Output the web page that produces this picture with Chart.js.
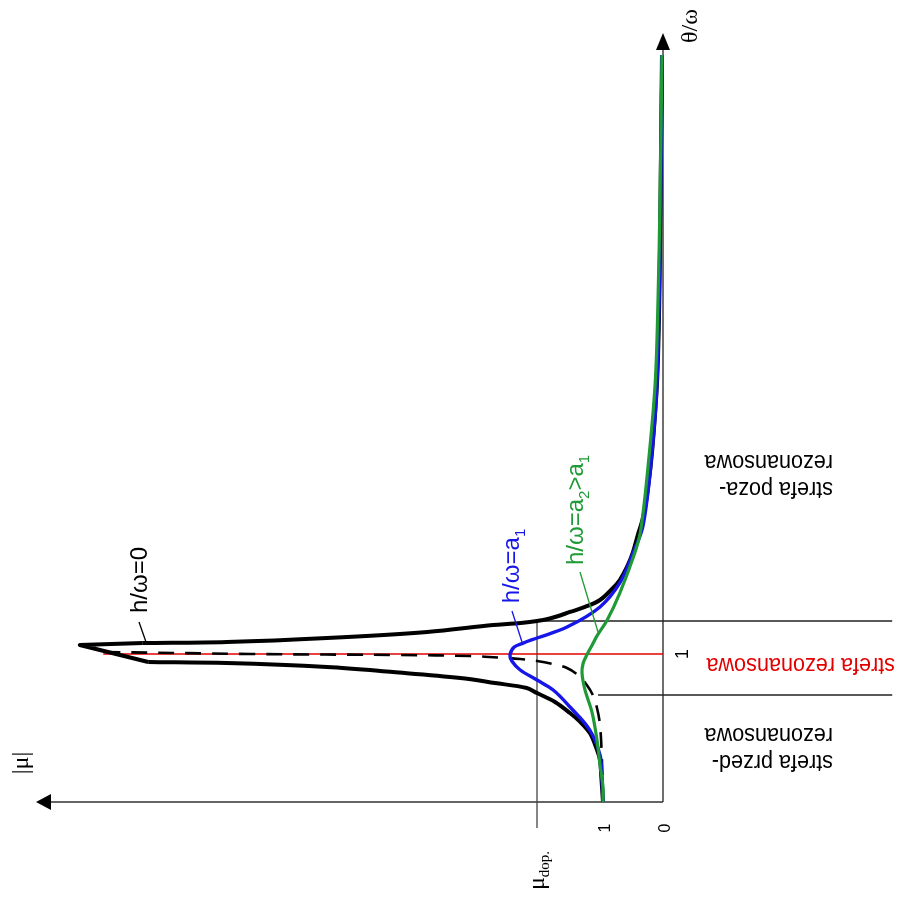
<!DOCTYPE html>
<html>
<head>
<meta charset="utf-8">
<script src="https://cdn.jsdelivr.net/npm/chart.js@4.4.0/dist/chart.umd.min.js"></script>
<style>
  html, body { margin: 0; padding: 0; background: #fff; }
  #wrap { width: 897px; height: 900px; }
</style>
</head>
<body>
<div id="wrap"><canvas id="chart" width="897" height="900"></canvas></div>
<script>
// |mu| (horizontal axis, grows to the left) and theta/omega (vertical axis)
// h/omega = 0, branch below resonance
const muBlackLow = [1.00, 1.03, 1.05, 1.13, 1.22, 1.38, 1.55, 1.80, 2.10, 2.27, 2.80, 3.38, 4.50, 5.60, 7.27, 8.58];
const thBlackLow = [0.000, 0.182, 0.284, 0.385, 0.466, 0.541, 0.601, 0.676, 0.736, 0.770, 0.804, 0.838, 0.878, 0.912, 0.939, 0.946];
// clipped peak of h/omega = 0
const muBlackTip = [8.58, 9.72, 8.67];
const thBlackTip = [0.946, 1.061, 1.074];
// h/omega = 0, branch above resonance
const muBlackHigh = [8.67, 7.27, 5.60, 3.93, 2.83, 2.47, 2.05, 1.80, 1.55, 1.30, 1.05, 0.85, 0.72, 0.60, 0.50, 0.42, 0.33, 0.25, 0.18, 0.10, 0.067, 0.05, 0.033, 0.017];
const thBlackHigh = [1.074, 1.081, 1.108, 1.149, 1.196, 1.206, 1.226, 1.250, 1.284, 1.318, 1.365, 1.439, 1.500, 1.588, 1.689, 1.804, 1.926, 2.122, 2.378, 2.831, 3.277, 3.730, 4.405, 5.047];
// dashed curve
const muDashed = [1.00, 1.02, 1.05, 1.10, 1.17, 1.27, 1.42, 1.60, 1.83, 2.10, 2.38, 2.72, 3.22, 4.38, 6.88, 9.33];
const thDashed = [0.000, 0.304, 0.520, 0.635, 0.723, 0.791, 0.858, 0.905, 0.932, 0.953, 0.966, 0.976, 0.986, 0.993, 1.000, 1.014];
// h/omega = a1
const muBlue = [1.00, 1.02, 1.05, 1.22, 1.55, 1.83, 2.10, 2.38, 2.52, 2.55, 2.48, 2.33, 2.10, 1.60, 1.05, 0.72, 0.50, 0.33, 0.18, 0.10, 0.05, 0.017];
const thBlue = [0.000, 0.182, 0.318, 0.486, 0.642, 0.757, 0.824, 0.892, 0.953, 0.993, 1.047, 1.074, 1.108, 1.182, 1.318, 1.480, 1.682, 1.872, 2.378, 2.831, 3.730, 5.047];
// h/omega = a2 > a1
const muGreen = [1.00, 1.00, 1.05, 1.10, 1.18, 1.30, 1.35, 1.33, 1.27, 1.18, 1.10, 0.93, 0.72, 0.50, 0.38, 0.25, 0.13, 0.083, 0.05, 0.017];
const thGreen = [0.000, 0.101, 0.250, 0.419, 0.601, 0.757, 0.872, 0.939, 0.993, 1.061, 1.122, 1.230, 1.412, 1.649, 1.818, 2.264, 2.831, 3.392, 4.068, 5.047];
// reference values
const muDop = 2.1;
const zoneLow = 0.723;
const zoneHigh = 1.223;
const resonance = 1;
const muPeakDashed = 9.33;
const muTicks = [0, 1];

function pts(mu, th) {
    return mu.map((m, i) => ({ x: m, y: th[i] }));
}

function line(data, color, width, extra) {
    return Object.assign({
        data: data,
        showLine: true,
        borderColor: color,
        borderWidth: width,
        pointRadius: 0,
        tension: 0.35,
        fill: false,
        clip: false
    }, extra || {});
}

const BLUE = '#1616e8';
const GREEN = '#1f9a36';
const RED = '#e30000';

const datasets = [
    line(pts(muGreen, thGreen), GREEN, 3.2, { order: 1 }),
    line(pts(muBlue, thBlue), BLUE, 3.4, { order: 2 }),
    line(pts(muBlackLow, thBlackLow), '#000', 4, { order: 3 }),
    line(pts(muBlackTip, thBlackTip), '#000', 4, { order: 3, tension: 0, borderJoinStyle: 'round' }),
    line(pts(muBlackHigh, thBlackHigh), '#000', 4, { order: 3 }),
    line(pts(muDashed, thDashed), '#000', 2.6, { order: 4, borderDash: [16, 11] }),
    line([{ x: muPeakDashed, y: resonance }, { x: 0, y: resonance }], RED, 1.6, { order: 5, tension: 0 }),
    line([{ x: muDop, y: -0.176 }, { x: muDop, y: zoneHigh }], '#444', 1.3, { order: 6, tension: 0 }),
    line([{ x: muDop, y: zoneHigh }, { x: -3.82, y: zoneHigh }], '#222', 1.4, { order: 6, tension: 0 }),
    line([{ x: 1.083, y: zoneLow }, { x: -3.82, y: zoneLow }], '#222', 1.4, { order: 6, tension: 0 })
];

// text drawn along a rotated baseline, with optional subscripts
function drawParts(ctx, parts, cx, cy, angle, align, color, sx) {
    ctx.save();
    ctx.translate(cx, cy);
    ctx.rotate(angle);
    if (sx) ctx.scale(sx, 1);
    ctx.fillStyle = color;
    ctx.textAlign = 'left';
    ctx.textBaseline = 'alphabetic';
    let w = 0;
    parts.forEach(p => { ctx.font = p.font; w += ctx.measureText(p.t).width; });
    let pos = align === 'center' ? -w / 2 : 0;
    parts.forEach(p => {
        ctx.font = p.font;
        ctx.fillText(p.t, pos, p.dy || 0);
        pos += ctx.measureText(p.t).width;
    });
    ctx.restore();
}

const SANS = '"Liberation Sans", Arial, sans-serif';
const SERIF = '"Liberation Serif", "Times New Roman", serif';
const UP = -Math.PI / 2;

const overlay = {
    id: 'overlay',
    beforeDatasetsDraw(chart) {
        const { ctx } = chart;
        const xs = chart.scales.x, ys = chart.scales.y;
        const x0 = xs.getPixelForValue(0), y0 = ys.getPixelForValue(0);
        const xEnd = xs.getPixelForValue(xs.max), yEnd = ys.getPixelForValue(ys.max);
        ctx.save();
        ctx.strokeStyle = '#333';
        ctx.lineWidth = 1.4;
        ctx.beginPath();
        ctx.moveTo(x0, y0);
        ctx.lineTo(xEnd + 12, y0);
        ctx.moveTo(x0, y0);
        ctx.lineTo(x0, yEnd + 14);
        ctx.stroke();
        ctx.fillStyle = '#000';
        ctx.beginPath();
        ctx.moveTo(xEnd, y0);
        ctx.lineTo(xEnd + 15, y0 - 8);
        ctx.lineTo(xEnd + 15, y0 + 8);
        ctx.closePath();
        ctx.fill();
        ctx.beginPath();
        ctx.moveTo(x0, yEnd);
        ctx.lineTo(x0 - 7, yEnd + 17);
        ctx.lineTo(x0 + 7, yEnd + 17);
        ctx.closePath();
        ctx.fill();
        ctx.restore();
    },
    afterDatasetsDraw(chart) {
        const { ctx } = chart;
        const xs = chart.scales.x, ys = chart.scales.y;
        const x0 = xs.getPixelForValue(0), y0 = ys.getPixelForValue(0);
        const yEnd = ys.getPixelForValue(ys.max);
        const xEnd = xs.getPixelForValue(xs.max);

        // axis titles
        drawParts(ctx, [{ t: '|μ|', font: '24px ' + SERIF }], xEnd - 8, y0 - 39, UP, 'center', '#000');
        drawParts(ctx, [{ t: 'θ/ω', font: '24px ' + SERIF }], x0 + 34, yEnd + 10, UP, 'left', '#000');

        // tick labels
        muTicks.forEach(m => {
            drawParts(ctx, [{ t: String(m), font: '16px ' + SANS }], xs.getPixelForValue(m) + 7, y0 + 26, UP, 'center', '#000');
        });
        drawParts(ctx, [{ t: 'μ', font: '24px ' + SERIF }, { t: 'dop.', font: '15px ' + SERIF, dy: 5 }],
            xs.getPixelForValue(muDop) + 7, y0 + 88, UP, 'left', '#000');
        drawParts(ctx, [{ t: '1', font: '18px ' + SANS }], x0 + 25, ys.getPixelForValue(resonance), UP, 'center', '#000');

        // curve labels
        const big = '24px ' + SANS, sub = '15px ' + SANS;
        drawParts(ctx, [{ t: 'h/ω=0', font: big }], 147, 580, UP, 'center', '#000');
        drawParts(ctx, [{ t: 'h/ω=a', font: big }, { t: '1', font: sub, dy: 6 }], 519, 566, UP, 'center', BLUE);
        drawParts(ctx, [{ t: 'h/ω=a', font: big }, { t: '2', font: sub, dy: 6 }, { t: '>a', font: big }, { t: '1', font: sub, dy: 6 }],
            583, 510, UP, 'center', GREEN);

        // leaders
        ctx.save();
        ctx.lineWidth = 1.3;
        [[139, 622, 146, 642, '#000'], [512, 611, 522, 642, BLUE], [580, 572, 598, 632, GREEN]].forEach(l => {
            ctx.strokeStyle = l[4];
            ctx.beginPath();
            ctx.moveTo(l[0], l[1]);
            ctx.lineTo(l[2], l[3]);
            ctx.stroke();
        });
        ctx.restore();

        // zone captions (upside down)
        const zf = '24px ' + SANS;
        const right = x0 + 170;
        drawParts(ctx, [{ t: 'strefa przed-', font: zf }], right, ys.getPixelForValue(0.318), Math.PI, 'left', '#000', 0.9);
        drawParts(ctx, [{ t: 'rezonansowa', font: zf }], right, ys.getPixelForValue(0.318) - 27, Math.PI, 'left', '#000', 0.9);
        drawParts(ctx, [{ t: 'strefa rezonansowa', font: zf }], right + 62, ys.getPixelForValue(resonance) + 4, Math.PI, 'left', RED, 0.9);
        drawParts(ctx, [{ t: 'strefa poza-', font: zf }], right, ys.getPixelForValue(2.162), Math.PI, 'left', '#000', 0.9);
        drawParts(ctx, [{ t: 'rezonansowa', font: zf }], right, ys.getPixelForValue(2.162) - 27, Math.PI, 'left', '#000', 0.9);
    }
};

new Chart(document.getElementById('chart').getContext('2d'), {
    type: 'scatter',
    data: { datasets: datasets },
    options: {
        responsive: false,
        animation: false,
        layout: { padding: { left: 36, right: 234, top: 33, bottom: 98 } },
        scales: {
            x: { type: 'linear', reverse: true, min: 0, max: 10.45, display: false },
            y: { type: 'linear', min: 0, max: 5.196, display: false }
        },
        plugins: {
            legend: { display: false },
            tooltip: { enabled: false }
        }
    },
    plugins: [overlay]
});
</script>
</body>
</html>
